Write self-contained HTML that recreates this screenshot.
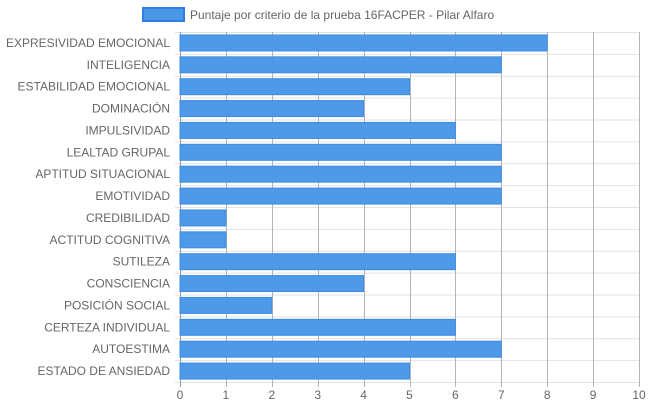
<!DOCTYPE html>
<html><head><meta charset="utf-8"><style>
body{margin:0;background:#fff;font-family:"Liberation Sans",sans-serif;}
svg text{font-family:"Liberation Sans",sans-serif;}
</style></head><body>
<svg id="c" width="648" height="410" xmlns="http://www.w3.org/2000/svg">
<g>
<rect x="143" y="8" width="41" height="13" fill="#4a97e8" stroke="#2f7fe0" stroke-width="2"/>
<text x="190" y="19" font-size="12" fill="#666">Puntaje por criterio de la prueba 16FACPER - Pilar Alfaro</text>
</g>
<g id="grid"></g><g id="bars"></g><g id="labels"></g>
</svg>
<script>
const categories=["EXPRESIVIDAD EMOCIONAL","INTELIGENCIA","ESTABILIDAD EMOCIONAL","DOMINACIÓN","IMPULSIVIDAD","LEALTAD GRUPAL","APTITUD SITUACIONAL","EMOTIVIDAD","CREDIBILIDAD","ACTITUD COGNITIVA","SUTILEZA","CONSCIENCIA","POSICIÓN SOCIAL","CERTEZA INDIVIDUAL","AUTOESTIMA","ESTADO DE ANSIEDAD"];
const values=[8,7,5,4,6,7,7,7,1,1,6,4,2,6,7,5];
const ticks=[0,1,2,3,4,5,6,7,8,9,10];
const NS="http://www.w3.org/2000/svg";
const L=180,R=639,T=32,B=382,MAX=10;
const x=v=>L+(R-L)*v/MAX;
const band=(B-T)/categories.length;
const y=i=>T+band*i;
function mk(tag,a,p){const e=document.createElementNS(NS,tag);for(const k in a)e.setAttribute(k,a[k]);p.appendChild(e);return e;}
const g=document.getElementById('grid'),bg=document.getElementById('bars'),lg=document.getElementById('labels');
for(let i=0;i<=categories.length;i++){
 const l=mk('line',{x1:L-5,x2:R,y1:y(i)+0.5,y2:y(i)+0.5,stroke:'#e2e2e2'},g);
 
 
}
ticks.forEach(t=>{
 const l=mk('line',{x1:Math.round(x(t))+0.5,x2:Math.round(x(t))+0.5,y1:T,y2:B+5,stroke:t===0?'#999':'#b5b5b5'},g);
 
 
 const tx=mk('text',{x:x(t),y:399,'font-size':12,fill:'#666','text-anchor':'middle'},lg);
 tx.textContent=t;
 
 
});
categories.forEach((c,i)=>{
 const bh=16,by=y(i)+(band-bh)/2;
 const r=mk('rect',{x:x(0),y:by,width:x(values[i])-x(0),height:bh,fill:'#4a97e8','fill-opacity':0.98,stroke:'#3e8ce4','stroke-width':1},bg);
 
 
 const t=mk('text',{x:170,y:y(i)+band/2+4,'font-size':12,fill:'#666','text-anchor':'end'},lg);
 t.textContent=c;
 
 
});
</script>
</body></html>
